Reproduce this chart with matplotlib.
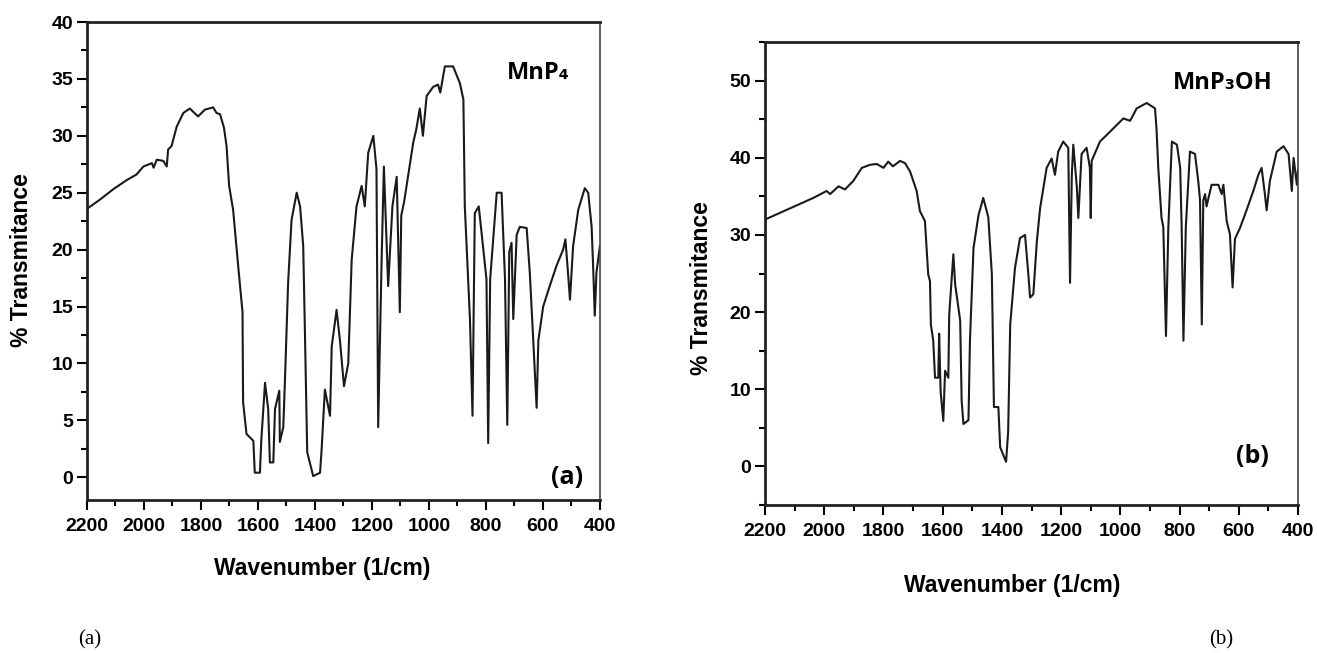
import matplotlib.pyplot as plt
from matplotlib.ticker import MultipleLocator

# spectrum (a) MnP4: wavenumber (1/cm) and % transmitance
wn_a = [2199, 2154, 2108, 2061, 2026, 2002, 1972, 1966, 1955, 1932, 1920, 1915,
        1903, 1885, 1862, 1839, 1810, 1786, 1757, 1745, 1733, 1719, 1710, 1701,
        1687, 1669, 1654, 1652, 1640, 1616, 1611, 1593, 1588, 1575, 1564, 1558,
        1546, 1540, 1525, 1523, 1511, 1505, 1494, 1482, 1464, 1452, 1441, 1435,
        1427, 1406, 1382, 1377, 1365, 1347, 1341, 1324, 1312, 1298, 1283, 1271,
        1254, 1236, 1225, 1213, 1195, 1184, 1178, 1166, 1158, 1143, 1128, 1113,
        1102, 1097, 1087, 1055, 1044, 1032, 1021, 1008, 985, 968, 960, 944,
        915, 891, 879, 874, 856, 847, 839, 825, 798, 792, 785, 762, 745, 733,
        725, 718, 710, 704, 692, 681, 657, 646, 634, 622, 616, 599, 576, 552,
        529, 521, 512, 505, 494, 476, 453, 441, 429, 423, 418, 412, 400]
tr_a = [23.6, 24.4, 25.3, 26.1, 26.6, 27.3, 27.6, 27.2, 27.9, 27.8, 27.3, 28.8,
        29.1, 30.8, 32.0, 32.4, 31.7, 32.3, 32.5, 32.0, 31.9, 30.7, 29.1, 25.6,
        23.5, 18.5, 14.5, 6.6, 3.8, 3.2, 0.4, 0.4, 3.3, 8.3, 6.0, 1.3,
        1.3, 6.0, 7.6, 3.1, 4.4, 8.6, 17.1, 22.6, 25.0, 23.8, 20.3, 12.7,
        2.2, 0.1, 0.4, 2.2, 7.7, 5.4, 11.5, 14.7, 12.0, 8.0, 10.0, 19.1,
        23.8, 25.6, 23.8, 28.5, 30.0, 27.1, 4.4, 19.0, 27.3, 16.8, 23.8, 26.4,
        14.5, 23.0, 24.2, 29.4, 30.6, 32.4, 30.0, 33.5, 34.3, 34.5, 33.8, 36.1,
        36.1, 34.6, 33.2, 23.8, 13.9, 5.4, 23.2, 23.8, 17.4, 3.0, 17.4, 25.0, 25.0, 17.4,
        4.6, 19.8, 20.6, 13.9, 21.3, 22.0, 21.9, 18.0, 12.1, 6.1, 12.0, 15.0, 16.8, 18.6,
        20.0, 20.9, 18.0, 15.6, 20.3, 23.5, 25.4, 25.0, 22.0, 18.0, 14.2, 18.0, 20.3]

# spectrum (b) MnP3OH
wn_b = [2200, 2037, 1992, 1980, 1952, 1930, 1902, 1873, 1845, 1823, 1800, 1784,
        1768, 1744, 1727, 1710, 1688, 1677, 1660, 1649, 1643, 1640, 1632, 1626,
        1615, 1612, 1607, 1598, 1592, 1581, 1578, 1564, 1558, 1541, 1536, 1530,
        1513, 1508, 1496, 1479, 1463, 1446, 1434, 1427, 1412, 1406, 1386, 1379,
        1372, 1356, 1339, 1322, 1311, 1305, 1294, 1282, 1271, 1249, 1232, 1221,
        1210, 1193, 1176, 1170, 1164, 1159, 1147, 1142, 1131, 1114, 1103, 1100,
        1097, 1069, 1024, 990, 967, 945, 911, 883, 878, 872, 861, 855, 846, 838,
        826, 809, 798, 793, 787, 779, 765, 748, 737, 731, 725, 720, 714, 709,
        692, 669, 658, 652, 641, 630, 621, 613, 596, 574, 551, 534, 523, 512,
        506, 495, 472, 449, 432, 421, 415, 404, 400]
tr_b = [32.0, 34.8, 35.7, 35.3, 36.3, 35.9, 37.0, 38.7, 39.1, 39.2, 38.7, 39.5,
        38.9, 39.6, 39.3, 38.2, 35.7, 33.1, 31.8, 24.9, 24.0, 18.4, 16.3, 11.5,
        11.5, 17.2, 9.7, 5.9, 12.4, 11.5, 19.7, 27.5, 23.6, 18.9, 8.5, 5.5,
        6.0, 16.3, 28.3, 32.6, 34.8, 32.3, 24.9, 7.7, 7.7, 2.5, 0.6, 4.5,
        18.4, 25.7, 29.6, 30.0, 25.0, 21.9, 22.3, 29.2, 33.5, 38.7, 39.9, 37.8,
        40.8, 42.1, 41.3, 23.8, 37.8, 41.7, 36.2, 32.2, 40.5, 41.3, 38.7, 32.2,
        39.6, 42.1, 43.8, 45.1, 44.8, 46.4, 47.1, 46.4, 43.8, 38.7, 32.2, 31.0, 16.9, 31.0,
        42.1, 41.7, 38.7, 31.0, 16.3, 31.0, 40.8, 40.5, 37.0, 34.5, 18.4, 34.5, 35.3, 33.7,
        36.5, 36.5, 35.3, 36.5, 31.8, 30.1, 23.2, 29.5, 30.9, 33.2, 35.7, 37.8, 38.7, 35.3,
        33.2, 37.0, 40.8, 41.5, 40.5, 35.7, 40.0, 36.5, 38.5]

x_ticks = [2200, 2000, 1800, 1600, 1400, 1200, 1000, 800, 600, 400]

plt.rcParams['font.family'] = ['Liberation Sans', 'DejaVu Sans']
plt.rcParams['font.weight'] = 'bold'

fig = plt.figure(figsize=(13.17, 6.53), dpi=100)
ax_a = fig.add_axes([0.066, 0.2343, 0.3895, 0.732])
ax_b = fig.add_axes([0.5809, 0.2266, 0.4047, 0.709])


def style_axes(ax, ylim, ymajor, yminor):
    ax.set_xlim(2200, 400)
    ax.set_ylim(*ylim)
    ax.set_xticks(x_ticks)
    ax.xaxis.set_minor_locator(MultipleLocator(100))
    ax.yaxis.set_major_locator(MultipleLocator(ymajor))
    ax.yaxis.set_minor_locator(MultipleLocator(yminor))
    ax.tick_params(which='major', direction='out', length=7, width=1.5,
                   labelsize=14, pad=3, top=False, right=False)
    ax.tick_params(which='minor', direction='out', length=4.5, width=1.5,
                   top=False, right=False)
    ax.tick_params(axis='x', which='major', pad=6)
    for lab in ax.get_xticklabels() + ax.get_yticklabels():
        lab.set_fontweight('bold')
    for side in ['left', 'bottom', 'top']:
        ax.spines[side].set_linewidth(2)
        ax.spines[side].set_color('#222222')
    ax.spines['right'].set_linewidth(1.2)
    ax.spines['right'].set_color('#444444')
    ax.set_xlabel('Wavenumber (1/cm)', fontsize=16.5, fontweight='bold')
    ax.set_ylabel('% Transmitance', fontsize=16.5, fontweight='bold')


note_font = ['Open Sans', 'DejaVu Sans']

ax_a.plot(wn_a, tr_a, color='#1a1a1a', lw=1.5)
style_axes(ax_a, (-2, 40), 5, 2.5)
ax_a.xaxis.set_label_coords(0.459, -0.12)
ax_a.yaxis.set_label_coords(-0.105, 0.502)
ax_a.text(0.818, 0.893, 'MnP₄', transform=ax_a.transAxes, fontsize=17,
          fontweight='bold', family=note_font, va='center')
ax_a.text(0.905, 0.048, '(a)', transform=ax_a.transAxes, fontsize=18,
          fontweight='bold', family=note_font, va='center')

ax_b.plot(wn_b, tr_b, color='#1a1a1a', lw=1.5)
style_axes(ax_b, (-5, 55), 10, 5)
ax_b.xaxis.set_label_coords(0.463, -0.15)
ax_b.yaxis.set_label_coords(-0.098, 0.469)
ax_b.text(0.766, 0.911, 'MnP₃OH', transform=ax_b.transAxes, fontsize=17,
          fontweight='bold', family=note_font, va='center')
ax_b.text(0.884, 0.104, '(b)', transform=ax_b.transAxes, fontsize=18,
          fontweight='bold', family=note_font, va='center')

fig.text(90 / 1317, 1 - 640 / 653, '(a)', fontsize=15, fontweight='normal',
         family='Liberation Serif', ha='center', va='center')
fig.text(1221 / 1317, 1 - 640 / 653, '(b)', fontsize=15, fontweight='normal',
         family='Liberation Serif', ha='center', va='center')

fig.savefig('out.png', dpi=100)
